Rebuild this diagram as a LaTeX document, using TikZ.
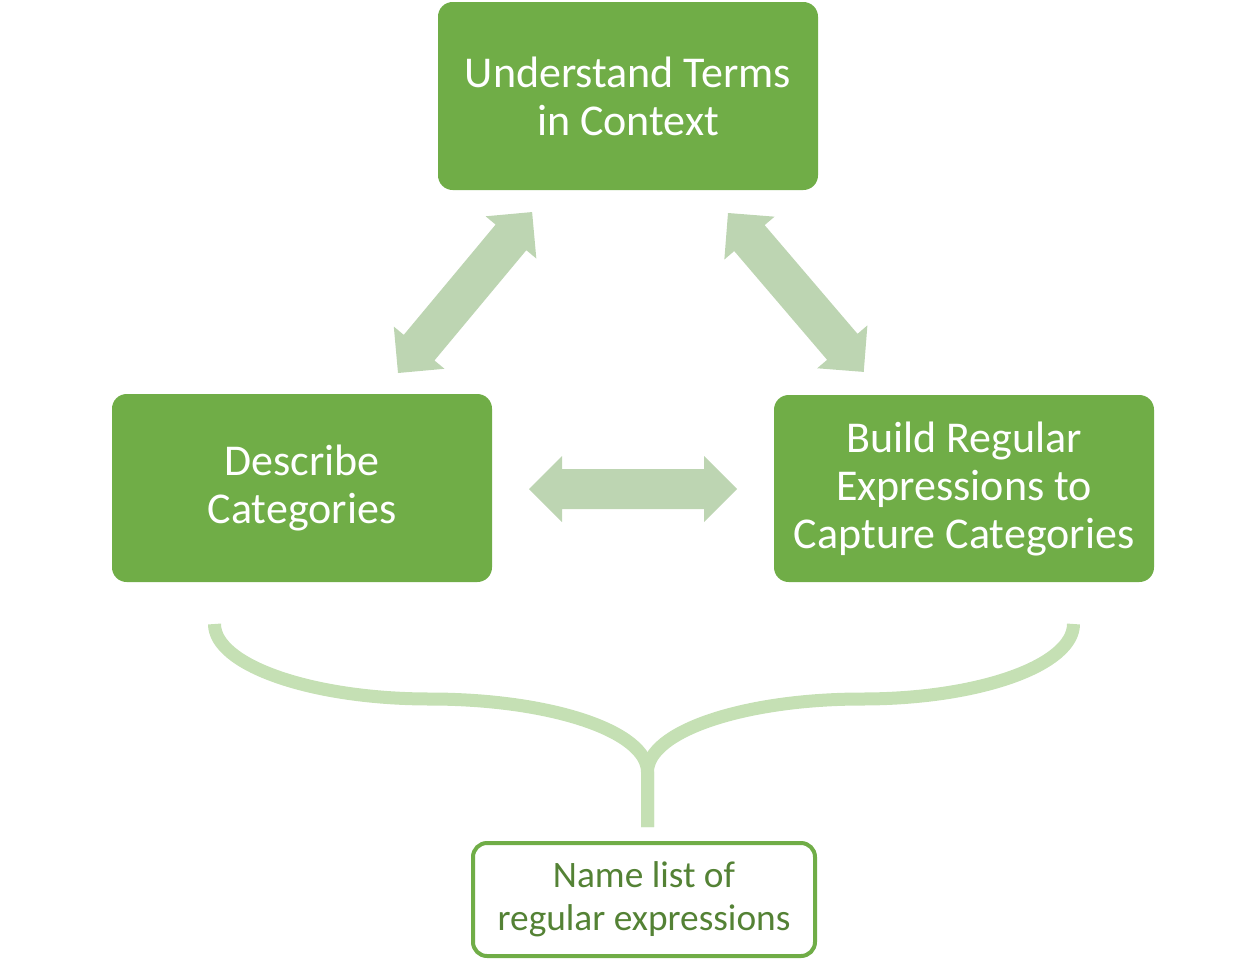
\documentclass[tikz,border=0pt]{standalone}
\usepackage{fontspec}
\setmainfont{Carlito}
\definecolor{boxgreen}{HTML}{70AD47}
\definecolor{arrowgreen}{HTML}{BDD5B2}
\definecolor{bracegreen}{HTML}{C5E0B4}
\definecolor{textgreen}{HTML}{548235}
\tikzset{
  greenbox/.style={fill=boxgreen, draw=none, rounded corners=11pt, text=white,
    align=center, inner sep=0pt, minimum width=285pt, minimum height=141pt,
    font=\fontsize{33}{36}\selectfont},
  outbox/.style={fill=white, draw=boxgreen, line width=3pt, rounded corners=10.5pt,
    text=textgreen, align=center, inner sep=0pt, minimum width=256.5pt,
    minimum height=84.75pt, font=\fontsize{28}{32.25}\selectfont},
  bracestyle/.style={draw=bracegreen, line width=9.75pt, line cap=butt},
  pics/dblarrow/.style={code={
    \fill[arrowgreen] (0,0) -- (33,-33) -- (33,-20) -- ({#1-33},-20) -- ({#1-33},-33)
      -- (#1,0) -- ({#1-33},33) -- ({#1-33},20) -- (33,20) -- (33,33) -- cycle;
  }}
}
\begin{document}
\begin{tikzpicture}[x=0.75pt,y=-0.75pt]
\useasboundingbox (0,0) rectangle (1256,968);
% boxes
\node[greenbox, minimum height=141pt] (top) at (628,96) {Understand Terms\\in Context};
\node[greenbox] (left) at (302,488) {Describe\\Categories};
\node[greenbox, minimum height=140.25pt] (right) at (964,488.5) {Build Regular\\Expressions to\\Capture Categories};
\node[outbox] (list) at (644,899.5) {Name list of\\regular expressions};
% block arrows
\coordinate (la) at (398,373);
\coordinate (ra) at (728,213);
\coordinate (ha) at (529,489);
\pic[rotate=50.2] at (la) {dblarrow=209.5};
\pic[rotate=-49.5] at (ra) {dblarrow=209};
\pic at (ha) {dblarrow=208};
% brace
\coordinate (bl) at (214.5,624);
\coordinate (br) at (1073.5,624);
\coordinate (stem) at (647.5,827);
\draw[bracestyle] (bl) .. controls (214.5,665) and (311,699) .. (430,699)
  .. controls (550,699) and (647.5,731) .. (647.5,772) -- (stem);
\draw[bracestyle] (br) .. controls (1073.5,665) and (980,699) .. (862,699)
  .. controls (745,699) and (647.5,731) .. (647.5,772) -- (stem);
\end{tikzpicture}
\end{document}
